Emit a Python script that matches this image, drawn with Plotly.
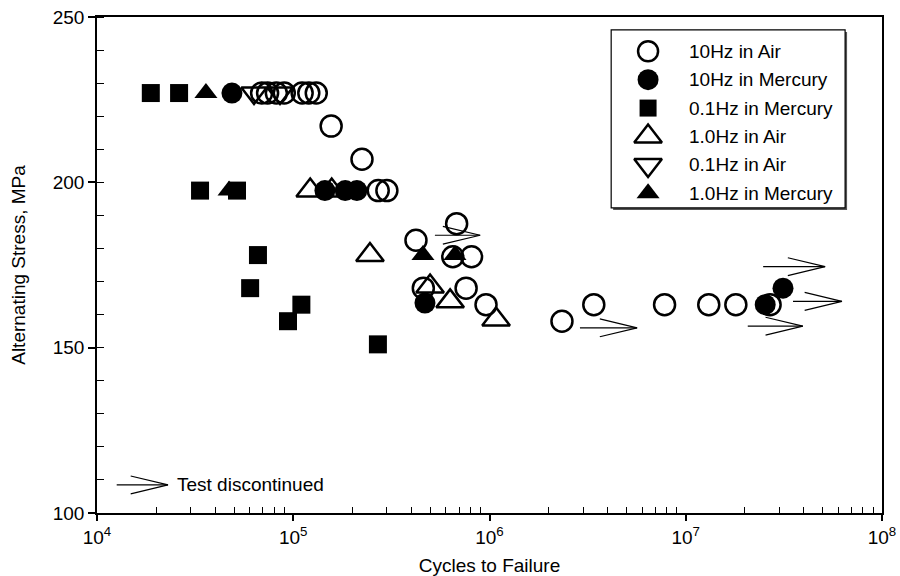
import numpy as np
import plotly.graph_objects as go

# ---- fatigue data: cycles to failure vs. alternating stress (MPa) ----
air10_cycles = [6.9e4, 7.4e4, 8.2e4, 9.0e4, 1.11e5, 1.20e5, 1.31e5,
                1.56e5, 2.24e5, 2.71e5, 3.0e5, 4.22e5, 6.8e5, 6.5e5, 8.1e5,
                4.6e5, 7.6e5, 9.6e5, 2.34e6, 3.4e6, 7.8e6, 1.31e7, 1.80e7, 2.69e7]
air10_stress = [227, 227, 227, 227, 227, 227, 227,
                217, 207, 197.5, 197.5, 182.5, 187.5, 177.5, 177.5,
                168, 168, 163, 158, 163, 163, 163, 163, 163]

merc10_cycles = [4.87e4, 1.45e5, 1.84e5, 2.11e5, 4.69e5, 2.54e7, 3.13e7]
merc10_stress = [227, 197.5, 197.5, 197.5, 163.5, 163, 168]

merc01_cycles = [1.88e4, 2.62e4, 3.35e4, 5.17e4, 6.61e4, 6.03e4, 1.10e5, 9.40e4, 2.70e5]
merc01_stress = [227, 227, 197.5, 197.5, 178, 168, 163, 158, 151]

air1_cycles = [1.22e5, 1.57e5, 2.46e5, 4.98e5, 6.30e5, 1.08e6]
air1_stress = [197.5, 197.5, 178, 168.5, 164, 158.5]

air01_cycles = [6.31e4, 8.56e4]
air01_stress = [227, 227]

merc1_cycles = [3.59e4, 4.71e4, 4.58e5, 6.67e5]
merc1_stress = [227, 197.5, 178, 178]

# run-outs (test discontinued): arrow start, arrow tip, stress level
runout_start = [5.27e5, 2.89e6, 2.48e7, 3.52e7, 2.07e7]
runout_tip = [8.96e5, 5.65e6, 5.13e7, 6.25e7, 3.95e7]
runout_stress = [184, 156, 174.5, 164, 156.5]

# key arrow for the run-out symbol
key_start, key_tip, key_stress = 1.26e4, 2.30e4, 108.5
key_text = "Test discontinued"

x_ticks = [1e4, 1e5, 1e6, 1e7, 1e8]
x_ticktext = ["10<sup>4</sup>", "10<sup>5</sup>", "10<sup>6</sup>",
              "10<sup>7</sup>", "10<sup>8</sup>"]
y_ticks = [100, 150, 200, 250]

FONT = "Liberation Sans, Arial, Helvetica, sans-serif"
FS = 19
BLACK = "black"

# name, x, y, symbol, marker size, outline width
series = [
    ("10Hz in Air", air10_cycles, air10_stress, "circle-open", 21, 2.5),
    ("10Hz in Mercury", merc10_cycles, merc10_stress, "circle", 21, 0),
    ("0.1Hz in Mercury", merc01_cycles, merc01_stress, "square", 18, 0),
    ("1.0Hz in Air", air1_cycles, air1_stress, "triangle-up-open", 24, 2.5),
    ("0.1Hz in Air", air01_cycles, air01_stress, "triangle-down-open", 22, 2.5),
    ("1.0Hz in Mercury", merc1_cycles, merc1_stress, "triangle-up", 20, 0),
]

fig = go.Figure()

for name, xs, ys, sym, size, lw in series:
    fig.add_trace(go.Scatter(
        x=xs, y=ys, mode="markers", name=name, showlegend=False,
        marker=dict(symbol=sym, size=size, color=BLACK,
                    line=dict(color=BLACK, width=lw)),
    ))


def arrow_path(x0, x1, y):
    """Open-chevron arrow on a log x axis, returned as line coordinates."""
    back = x1 / 10 ** 0.19   # barb length along the axis (decades)
    dy = 2.7                 # barb half-spread (MPa)
    return ([x0, x1, None, back, x1, back, None],
            [y, y, None, y + dy, y, y - dy, None])


ax, ay = [], []
for x0, x1, s in zip(runout_start, runout_tip, runout_stress):
    px, py = arrow_path(x0, x1, s)
    ax += px
    ay += py
px, py = arrow_path(key_start, key_tip, key_stress)
ax += px
ay += py
fig.add_trace(go.Scatter(x=ax, y=ay, mode="lines", showlegend=False,
                         hoverinfo="skip",
                         line=dict(color=BLACK, width=1.2)))

fig.add_annotation(x=np.log10(key_tip) + 0.035, y=key_stress, text=key_text,
                   showarrow=False, xanchor="left", yanchor="middle",
                   font=dict(family=FONT, size=FS, color=BLACK))

# ---- legend box, drawn on an overlay axis spanning the plot area (0..1) ----
leg_x0, leg_x1, leg_y0, leg_y1 = 0.655, 0.953, 0.615, 0.974
leg_sym_x, leg_txt_x = 0.702, 0.751
leg_top, leg_step = 0.931, 0.0573
shadow_dx, shadow_dy = 0.0025, 0.004
fig.add_shape(type="rect", xref="paper", yref="paper",
              x0=leg_x0 + shadow_dx, x1=leg_x1 + shadow_dx,
              y0=leg_y0 - shadow_dy, y1=leg_y1 - shadow_dy,
              line=dict(width=0), fillcolor="#555555", layer="below")
fig.add_shape(type="rect", xref="paper", yref="paper",
              x0=leg_x0, x1=leg_x1, y0=leg_y0, y1=leg_y1,
              line=dict(color=BLACK, width=1.2), fillcolor="white",
              layer="below")
leg_marker_size = {"circle-open": 20, "circle": 21, "square": 17,
                   "triangle-up-open": 24, "triangle-down-open": 24,
                   "triangle-up": 20}
for i, (name, _, _, sym, size, lw) in enumerate(series):
    yy = leg_top - i * leg_step
    fig.add_trace(go.Scatter(
        x=[leg_sym_x], y=[yy], xaxis="x2", yaxis="y2", mode="markers",
        showlegend=False, hoverinfo="skip",
        marker=dict(symbol=sym, size=leg_marker_size[sym], color=BLACK,
                    line=dict(color=BLACK, width=lw)),
    ))
    fig.add_annotation(x=leg_txt_x, y=yy, xref="x2", yref="y2", text=name,
                       showarrow=False, xanchor="left", yanchor="middle",
                       font=dict(family=FONT, size=FS, color=BLACK))

minor_x = [k * 10 ** p for p in range(4, 8) for k in range(2, 10)]

fig.update_layout(
    width=900, height=576,
    margin=dict(l=97, r=18, t=17, b=63),
    paper_bgcolor="white", plot_bgcolor="white",
    font=dict(family=FONT, size=FS, color=BLACK),
    showlegend=False,
    xaxis=dict(type="log", range=[4, 8], tickvals=x_ticks, ticktext=x_ticktext,
               showgrid=False, zeroline=False,
               showline=True, linecolor=BLACK, linewidth=1.6, mirror=True,
               ticks="outside", ticklen=6, tickwidth=1.5, tickcolor=BLACK,
               tickfont=dict(family=FONT, size=FS, color=BLACK),
               minor=dict(tickvals=minor_x, ticks="inside", ticklen=6,
                          tickwidth=1, tickcolor=BLACK, showgrid=False),
               title=dict(text="Cycles to Failure", standoff=12,
                          font=dict(family=FONT, size=FS, color=BLACK)),
               automargin=False),
    yaxis=dict(range=[100, 250], tickvals=y_ticks, showgrid=False,
               zeroline=False, showline=True, linecolor=BLACK, linewidth=1.6,
               mirror=True, ticks="outside", ticklen=7, tickwidth=1.5,
               tickcolor=BLACK,
               tickfont=dict(family=FONT, size=FS, color=BLACK),
               minor=dict(dtick=10, ticks="inside", ticklen=7, tickwidth=1,
                          tickcolor=BLACK, showgrid=False),
               title=dict(text="Alternating Stress, MPa", standoff=22,
                          font=dict(family=FONT, size=FS, color=BLACK)),
               automargin=False),
    xaxis2=dict(overlaying="x", range=[0, 1], visible=False, fixedrange=True),
    yaxis2=dict(overlaying="y", range=[0, 1], visible=False, fixedrange=True),
)

fig.write_html("out.html")
